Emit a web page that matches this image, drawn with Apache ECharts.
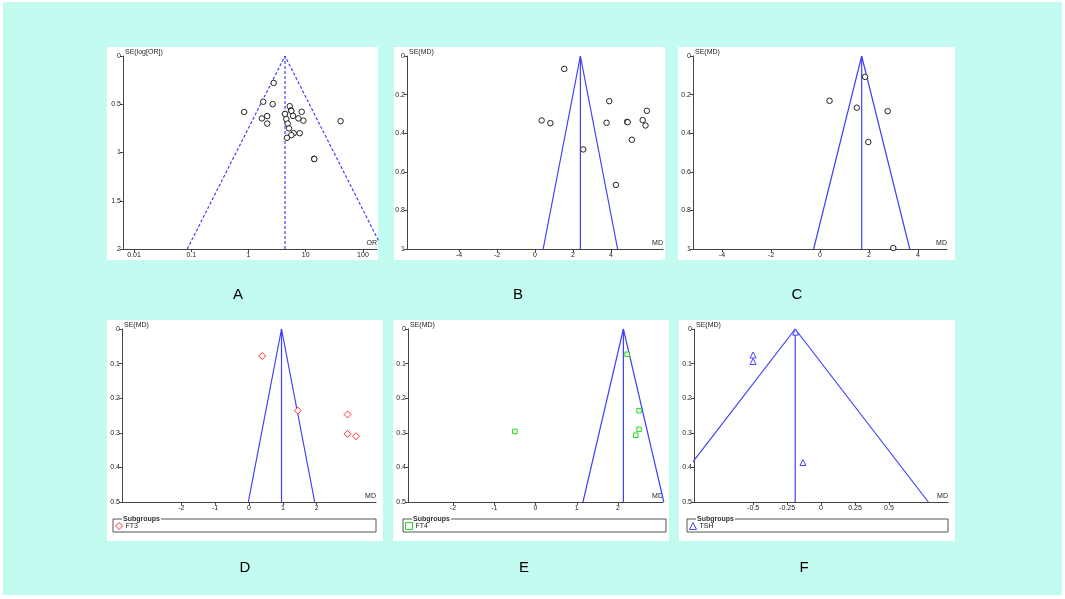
<!DOCTYPE html>
<html>
<head>
<meta charset="utf-8">
<script src="https://cdn.jsdelivr.net/npm/echarts@6/dist/echarts.min.js"></script>
<style>
  body { margin: 0; background: #fff; }
  #bg { position: absolute; left: 3px; top: 2px; width: 1059px; height: 593px; background: #c4fbf1; }
  .panel { position: absolute; background: #fff; }
  #chart { position: absolute; left: 0; top: 0; width: 1065px; height: 599px; }
</style>
</head>
<body>
<div id="bg"></div>
<div class="panel" style="left:107px;top:47px;width:271px;height:213px"></div>
<div class="panel" style="left:394px;top:47px;width:271px;height:213px"></div>
<div class="panel" style="left:678px;top:47px;width:277px;height:213px"></div>
<div class="panel" style="left:107px;top:320px;width:276px;height:221px"></div>
<div class="panel" style="left:393px;top:320px;width:276px;height:221px"></div>
<div class="panel" style="left:679px;top:320px;width:276px;height:221px"></div>
<div id="chart"></div>
<script>
// A: odds ratio vs SE(log[OR])
var orA = [2.75, 1.81, 2.64, 0.84, 1.71, 2.12, 2.12, 5.24, 5.52, 5.6, 5.99, 8.5, 7.44, 9.1,
           4.34, 4.58, 4.83, 5.1, 6.16, 5.61, 7.85, 4.7, 40.6, 14.0, 14.1];
var seA = [0.279, 0.474, 0.499, 0.58, 0.647, 0.623, 0.70, 0.52, 0.563, 0.569, 0.62, 0.578, 0.647, 0.67,
           0.60, 0.654, 0.70, 0.75, 0.80, 0.82, 0.80, 0.847, 0.675, 1.065, 1.068];
var funnelA = [[0.085, 2], [4.34, 0], [222, 2]];
var pooledA = [[4.34, 0], [4.34, 2]];

// B
var mdB = [1.54, 0.35, 0.81, 3.91, 3.77, 4.85, 4.88, 5.89, 5.67, 5.82, 5.10, 2.54, 4.26];
var seB = [0.067, 0.334, 0.348, 0.234, 0.346, 0.341, 0.343, 0.284, 0.332, 0.36, 0.434, 0.484, 0.668];
var funnelB = [[0.43, 1], [2.39, 0], [4.35, 1]];
var pooledB = [[2.39, 0], [2.39, 1]];

// C
var mdC = [1.84, 0.39, 1.50, 2.76, 1.97, 2.99];
var seC = [0.108, 0.232, 0.268, 0.286, 0.446, 0.995];
var funnelC = [[-0.26, 1], [1.70, 0], [3.66, 1]];
var pooledC = [[1.70, 0], [1.70, 1]];

// D: FT3
var mdD = [0.39, 1.44, 2.91, 2.91, 3.16];
var seD = [0.078, 0.236, 0.247, 0.303, 0.31];
var funnelD = [[-0.02, 0.5], [0.96, 0], [1.94, 0.5]];
var pooledD = [[0.96, 0], [0.96, 0.5]];

// E: FT4
var mdE = [2.22, 2.51, 2.51, 2.43, -0.50];
var seE = [0.073, 0.236, 0.29, 0.307, 0.296];
var funnelE = [[1.15, 0.5], [2.13, 0], [3.11, 0.5]];
var pooledE = [[2.13, 0], [2.13, 0.5]];

// F: TSH
var mdF = [-0.187, -0.50, -0.50, -0.133];
var seF = [0.009, 0.075, 0.094, 0.386];
var funnelF = [[-1.17, 0.5], [-0.19, 0], [0.79, 0.5]];
var pooledF = [[-0.19, 0], [-0.19, 0.5]];

// tick labels
var xTicksA = [0.01, 0.1, 1, 10, 100];
var xTicksBC = [-4, -2, 0, 2, 4];
var xTicksDE = [-2, -1, 0, 1, 2];
var xTicksF = [-0.5, -0.25, 0, 0.25, 0.5];
var yTicksA = [0, 0.5, 1, 1.5, 2];
var yTicksBC = [0, 0.2, 0.4, 0.6, 0.8, 1];
var yTicksDEF = [0, 0.1, 0.2, 0.3, 0.4, 0.5];

var panelLetters = ['A', 'B', 'C', 'D', 'E', 'F'];

var axisColor = '#444';
var labelColor = '#222';
var blue = '#4040ff';

function zip(xs, ys) {
    return xs.map(function (x, i) { return [x, ys[i]]; });
}

function makeX(idx, type, min, max, ticks, name) {
    return {
        gridIndex: idx,
        type: type,
        logBase: 10,
        min: min,
        max: max,
        name: name,
        nameLocation: 'end',
        nameGap: 0,
        nameTextStyle: { fontSize: 7, color: labelColor, align: 'right', verticalAlign: 'bottom', padding: [0, 0, 2, 0] },
        axisLine: { onZero: false, lineStyle: { color: axisColor, width: 1 } },
        axisTick: { length: 3, customValues: ticks, lineStyle: { color: axisColor } },
        axisLabel: { customValues: ticks, fontSize: 7, color: labelColor, margin: 3 },
        splitLine: { show: false }
    };
}

function makeY(idx, max, ticks, name) {
    return {
        gridIndex: idx,
        type: 'value',
        inverse: true,
        min: 0,
        max: max,
        name: name,
        nameLocation: 'start',
        nameGap: 4,
        nameTextStyle: { fontSize: 7, color: labelColor, align: 'left', verticalAlign: 'middle', padding: [0, 0, 0, 2] },
        axisLine: { onZero: false, lineStyle: { color: axisColor, width: 1 } },
        axisTick: { length: 3, customValues: ticks, lineStyle: { color: axisColor } },
        axisLabel: { customValues: ticks, fontSize: 7, color: labelColor, margin: 2 },
        splitLine: { show: false }
    };
}

function lineSeries(idx, data, dashed) {
    return {
        type: 'line', xAxisIndex: idx, yAxisIndex: idx, data: data,
        symbol: 'none', silent: true, clip: true,
        lineStyle: { color: blue, width: 1.2, type: dashed ? [3, 2] : 'solid' },
        z: 3
    };
}

function dotSeries(idx, name, data, symbol, size, stroke) {
    return {
        type: 'scatter', name: name, xAxisIndex: idx, yAxisIndex: idx, data: data,
        symbol: symbol, symbolSize: size,
        itemStyle: { color: '#fff', borderColor: stroke, borderWidth: 1, opacity: 1 },
        z: 4
    };
}

var grids = [
    { left: 123, top: 56, width: 254, height: 193 },
    { left: 407, top: 56, width: 256, height: 193 },
    { left: 693, top: 56, width: 254, height: 193 },
    { left: 122, top: 329, width: 254, height: 173 },
    { left: 408, top: 329, width: 255, height: 173 },
    { left: 694, top: 329, width: 254, height: 173 }
];

var letterPos = [[238, 295], [518, 295], [797, 295], [245, 568], [524, 568], [804, 568]];
var legendBoxes = [
    { x: 113, y: 519, w: 263, name: 'FT3', color: '#ff2a2a' },
    { x: 403, y: 519, w: 263, name: 'FT4', color: '#1fd81f' },
    { x: 687, y: 519, w: 261, name: 'TSH', color: '#4646ff' }
];

var graphics = [];
letterPos.forEach(function (p, i) {
    graphics.push({
        type: 'text', x: p[0], y: p[1], z: 10,
        style: { text: panelLetters[i], fontSize: 15, fill: '#000', align: 'center', verticalAlign: 'middle', fontFamily: 'Liberation Sans' }
    });
});
legendBoxes.forEach(function (b) {
    graphics.push({
        type: 'rect', z: 1,
        shape: { x: b.x, y: b.y, width: b.w, height: 13 },
        style: { fill: '#fff', stroke: '#555', lineWidth: 1 }
    });
    graphics.push({
        type: 'text', x: b.x + 9, y: b.y, z: 2,
        style: { text: 'Subgroups', fontSize: 7, fontWeight: 'bold', fill: '#333', verticalAlign: 'middle',
                 backgroundColor: '#fff', padding: [0, 1], fontFamily: 'Liberation Sans' }
    });
});

var legends = legendBoxes.map(function (b) {
    return {
        left: b.x + 2, top: b.y + 3, padding: 0, itemWidth: 7, itemHeight: 7, itemGap: 4,
        selectedMode: false, z: 5,
        textStyle: { fontSize: 7, color: labelColor, padding: [3, 0, 0, -2] },
        data: [{ name: b.name, itemStyle: { color: '#fff', borderColor: b.color, borderWidth: 1 } }]
    };
});

var chart = echarts.init(document.getElementById('chart'), null, { renderer: 'canvas' });
chart.setOption({
    animation: false,
    backgroundColor: 'transparent',
    textStyle: { fontFamily: 'Liberation Sans, Arial, sans-serif' },
    grid: grids,
    xAxis: [
        makeX(0, 'log', 0.0064, 176, xTicksA, 'OR'),
        makeX(1, 'value', -6.74, 6.74, xTicksBC, 'MD'),
        makeX(2, 'value', -5.18, 5.18, xTicksBC, 'MD'),
        makeX(3, 'value', -3.75, 3.75, xTicksDE, 'MD'),
        makeX(4, 'value', -3.09, 3.09, xTicksDE, 'MD'),
        makeX(5, 'value', -0.935, 0.935, xTicksF, 'MD')
    ],
    yAxis: [
        makeY(0, 2, yTicksA, 'SE(log[OR])'),
        makeY(1, 1, yTicksBC, 'SE(MD)'),
        makeY(2, 1, yTicksBC, 'SE(MD)'),
        makeY(3, 0.5, yTicksDEF, 'SE(MD)'),
        makeY(4, 0.5, yTicksDEF, 'SE(MD)'),
        makeY(5, 0.5, yTicksDEF, 'SE(MD)')
    ],
    legend: legends,
    graphic: graphics,
    series: [
        lineSeries(0, funnelA, true),
        lineSeries(0, pooledA, true),
        dotSeries(0, 'A', zip(orA, seA), 'circle', 5.5, '#222'),
        lineSeries(1, funnelB, false),
        lineSeries(1, pooledB, false),
        dotSeries(1, 'B', zip(mdB, seB), 'circle', 5.5, '#222'),
        lineSeries(2, funnelC, false),
        lineSeries(2, pooledC, false),
        dotSeries(2, 'C', zip(mdC, seC), 'circle', 5.5, '#222'),
        lineSeries(3, funnelD, false),
        lineSeries(3, pooledD, false),
        dotSeries(3, 'FT3', zip(mdD, seD), 'diamond', 7, '#ff2a2a'),
        lineSeries(4, funnelE, false),
        lineSeries(4, pooledE, false),
        dotSeries(4, 'FT4', zip(mdE, seE), 'rect', 4.5, '#1fd81f'),
        lineSeries(5, funnelF, false),
        lineSeries(5, pooledF, false),
        dotSeries(5, 'TSH', zip(mdF, seF), 'triangle', 6, '#4646ff')
    ]
});
</script>
</body>
</html>
